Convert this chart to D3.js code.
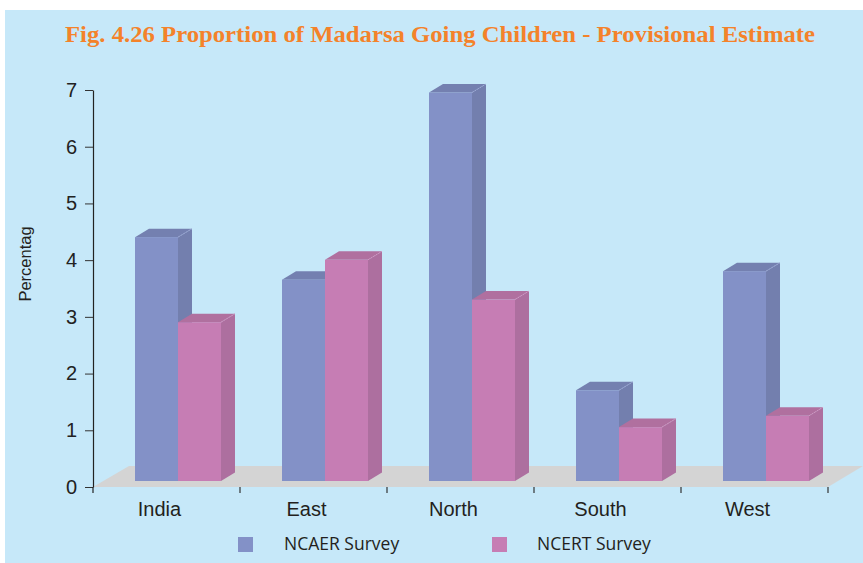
<!DOCTYPE html>
<html>
<head>
<meta charset="utf-8">
<script src="https://cdn.jsdelivr.net/npm/d3@7"></script>
<style>
  html, body { margin: 0; padding: 0; background: #ffffff; }
  svg { display: block; }
</style>
</head>
<body>
<svg id="chart" width="863" height="563"></svg>
<script>
// Regional proportion of madarsa going children (%), two surveys
const categories = ["India", "East", "North", "South", "West"];
const ncaer = [4.3, 3.55, 6.85, 1.6, 3.7];
const ncert = [2.8, 3.9, 3.2, 0.95, 1.15];
const seriesNames = ["NCAER Survey", "NCERT Survey"];
const yTicks = [0, 1, 2, 3, 4, 5, 6, 7];

const svg = d3.select("#chart");
const W = 863, H = 563;

// panel background
svg.append("rect").attr("x", 5).attr("y", 10).attr("width", W - 5).attr("height", H - 10)
  .attr("fill", "#c6e8f9");

// title
svg.append("text")
  .attr("x", 440).attr("y", 42)
  .attr("text-anchor", "middle")
  .attr("font-family", "'Liberation Serif', 'DejaVu Serif', serif")
  .attr("font-weight", "bold")
  .attr("font-size", 24)
  .attr("fill", "#f4822a")
  .attr("textLength", 750)
  .attr("lengthAdjust", "spacingAndGlyphs")
  .text("Fig. 4.26 Proportion of Madarsa Going Children - Provisional Estimate");

const x0 = 93, x1 = 828, yTop = 90, yBase = 487;
const x = d3.scaleBand().domain(categories).range([x0, x1]).padding(0);
const y = d3.scaleLinear().domain([0, 7]).range([yBase, yTop]);

// 3D geometry
const floorDX = 35, floorDY = 21;     // floor depth
const barDX = 14, barDY = 8.5;        // bar depth
const barLift = 6;                    // bars stand set back on the floor
const barShift = 11.5;                // horizontal shift from depth
const barW = 43;

// floor
svg.append("polygon")
  .attr("points", [[x0, yBase], [x1, yBase], [x1 + floorDX, yBase - floorDY], [x0 + floorDX + 1, yBase - floorDY]].map(p => p.join(",")).join(" "))
  .attr("fill", "#d4d4d4");

const colors = [
  { front: "#8391c7", side: "#737fae", top: "#7480b0", edge: "#a3addb" },
  { front: "#c67db4", side: "#ad6f9f", top: "#b0709f", edge: "#d59ac6" }
];

const data = categories.map((c, i) => ({ cat: c, vals: [ncaer[i], ncert[i]] }));

const bars = svg.append("g");
data.forEach(d => {
  const left = x(d.cat) + x.bandwidth() / 2 + barShift - barW;
  d.vals.forEach((v, j) => {
    const bx = left + j * barW;
    const yb = y(0) - barLift;
    const yt = y(v) - barLift;
    const col = colors[j];
    const g = bars.append("g");
    // side face
    g.append("polygon")
      .attr("points", [[bx + barW, yb], [bx + barW + barDX, yb - barDY], [bx + barW + barDX, yt - barDY], [bx + barW, yt]].map(p => p.join(",")).join(" "))
      .attr("fill", col.side);
    // top face
    g.append("polygon")
      .attr("points", [[bx, yt], [bx + barDX, yt - barDY], [bx + barW + barDX, yt - barDY], [bx + barW, yt]].map(p => p.join(",")).join(" "))
      .attr("fill", col.top);
    // light edge on the top corner
    g.append("line")
      .attr("x1", bx + barW).attr("y1", yt)
      .attr("x2", bx + barW + barDX).attr("y2", yt - barDY)
      .attr("stroke", col.edge).attr("stroke-width", 0.8).attr("stroke-dasharray", "2,1");
    // front face
    g.append("rect")
      .attr("x", bx).attr("y", yt)
      .attr("width", barW).attr("height", yb - yt)
      .attr("fill", col.front);
  });
});

// y axis
const yAxis = d3.axisLeft(y).tickValues(yTicks).tickFormat(d3.format("d"))
  .tickSize(8).tickSizeOuter(0).tickPadding(8);
const gy = svg.append("g").attr("transform", `translate(${x0},0)`).call(yAxis);
gy.select(".domain").attr("stroke", "#222").attr("stroke-width", 1.2);
gy.selectAll(".tick line").attr("stroke", "#333").attr("stroke-width", 1);
gy.selectAll(".tick text")
  .attr("font-family", "'Liberation Sans', Arial, sans-serif")
  .attr("font-size", 20)
  .attr("fill", "#222");
// axis line continues below the zero tick
svg.append("line").attr("x1", x0).attr("x2", x0).attr("y1", yBase).attr("y2", yBase + 6)
  .attr("stroke", "#222").attr("stroke-width", 1.2);

// x axis: boundary ticks and category labels
const bounds = categories.map(c => x(c) + x.step());
svg.append("g").selectAll("line").data(bounds).join("line")
  .attr("x1", d => d).attr("x2", d => d)
  .attr("y1", yBase).attr("y2", yBase + 6)
  .attr("stroke", "#333").attr("stroke-width", 1.2);

svg.append("g").selectAll("text").data(categories).join("text")
  .attr("x", d => x(d) + x.bandwidth() / 2 - 7)
  .attr("y", 516)
  .attr("text-anchor", "middle")
  .attr("font-family", "'Liberation Sans', Arial, sans-serif")
  .attr("font-size", 20)
  .attr("fill", "#231f20")
  .text(d => d);

// y axis title
svg.append("text")
  .attr("transform", "translate(31,264) rotate(-90)")
  .attr("text-anchor", "middle")
  .attr("font-family", "'Liberation Sans', Arial, sans-serif")
  .attr("font-size", 16.5)
  .attr("fill", "#231f20")
  .text("Percentag");

// legend
const legendPos = [238, 492];
const textPos = [284, 537];
seriesNames.forEach((name, i) => {
  svg.append("rect")
    .attr("x", legendPos[i]).attr("y", 537).attr("width", 15).attr("height", 15)
    .attr("fill", colors[i].front);
  svg.append("text")
    .attr("x", textPos[i]).attr("y", 550)
    .attr("font-family", "'Open Sans', 'Noto Sans', sans-serif")
    .attr("font-size", 17.5)
    .attr("fill", "#231f20")
    .text(name);
});
</script>
</body>
</html>
